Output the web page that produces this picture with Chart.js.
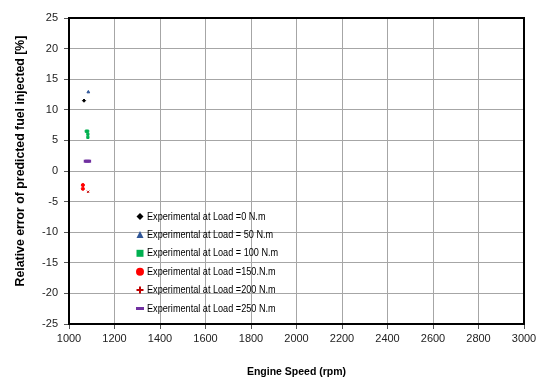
<!DOCTYPE html>
<html><head><meta charset="utf-8">
<script src="https://cdn.jsdelivr.net/npm/chart.js@4/dist/chart.umd.min.js"></script>
<style>html,body{margin:0;padding:0;background:#fff}</style>
</head><body>
<canvas id="c" width="540" height="378"></canvas>
<script>
// ---- data ----
const xTicks = [1000,1200,1400,1600,1800,2000,2200,2400,2600,2800,3000];
const yTicks = [-25,-20,-15,-10,-5,0,5,10,15,20,25];
const seriesNames = [
  'Experimental at Load =0 N.m',
  'Experimental at Load = 50 N.m',
  'Experimental at Load = 100 N.m',
  'Experimental at Load =150.N.m',
  'Experimental at Load =200 N.m',
  'Experimental at Load =250 N.m'
];
const xTitle = 'Engine Speed (rpm)';
const yTitle = 'Relative error of predicted fuel injected [%]';
const speedLoad0 = [1066];        const errLoad0 = [11.5];
const speedLoad50 = [1085];       const errLoad50 = [12.9];
const speedLoad100 = [1076, 1082, 1083, 1083]; const errLoad100 = [6.5, 6.5, 6.0, 5.5];
const speedLoad150 = [1061, 1061]; const errLoad150 = [-2.3, -2.9];
const speedLoad200 = [1084];      const errLoad200 = [-3.4];
const speedLoad250 = [1078, 1084]; const errLoad250 = [1.6, 1.6];

const colors = ['#000000','#2f5597','#00b050','#ff0000','#c00000','#7030a0'];
const styles = ['rectRot','triangle','rect','circle','crossRot','line'];
const speeds = [speedLoad0,speedLoad50,speedLoad100,speedLoad150,speedLoad200,speedLoad250];
const errs = [errLoad0,errLoad50,errLoad100,errLoad150,errLoad200,errLoad250];

const datasets = seriesNames.map((n,i)=>({
  label: n,
  data: speeds[i].map((x,j)=>({x:x,y:errs[i][j]})),
  showLine:false,
  pointStyle: styles[i],
  pointRadius: i===5 ? 3 : 1.6,
  pointBorderWidth: i===5 ? 3 : 1,
  backgroundColor: colors[i],
  borderColor: colors[i]
}));

const FONT = "'Liberation Sans', Arial, sans-serif";

const framePlugin = {
  id:'frame',
  beforeDatasetsDraw(chart){
    const {ctx, chartArea:a} = chart;
    ctx.save();
    ctx.strokeStyle='#000';
    ctx.lineWidth=2;
    ctx.strokeRect(a.left, a.top, a.right-a.left, a.bottom-a.top);
    ctx.restore();
  }
};

function drawMarker(ctx, style, x, y, color){
  ctx.save();
  ctx.fillStyle=color; ctx.strokeStyle=color;
  ctx.beginPath();
  switch(style){
    case 'rectRot': ctx.moveTo(x,y-3.5);ctx.lineTo(x+3.5,y);ctx.lineTo(x,y+3.5);ctx.lineTo(x-3.5,y);ctx.closePath();ctx.fill();break;
    case 'triangle': ctx.moveTo(x,y-4);ctx.lineTo(x+3.5,y+3);ctx.lineTo(x-3.5,y+3);ctx.closePath();ctx.fill();break;
    case 'rect': ctx.fillRect(x-3.5,y-3.5,7,7);break;
    case 'circle': ctx.arc(x,y,4,0,Math.PI*2);ctx.fill();break;
    case 'crossRot': ctx.lineWidth=2;ctx.moveTo(x-3.5,y);ctx.lineTo(x+3.5,y);ctx.moveTo(x,y-3.5);ctx.lineTo(x,y+3.5);ctx.stroke();break;
    case 'line': ctx.fillRect(x-4,y-1.5,8,3);break;
  }
  ctx.restore();
}

const textPlugin = {
  id:'texts',
  afterDraw(chart){
    const ctx = chart.ctx;
    // legend inside plot
    ctx.save();
    ctx.font = "11px " + FONT;
    ctx.fillStyle = '#000';
    ctx.textBaseline='middle';
    chart.data.datasets.forEach((ds,i)=>{
      const y = 216.5 + i*18.4;
      drawMarker(ctx, styles[i], 140, y, colors[i]);
      ctx.save();
      ctx.translate(147, y);
      ctx.scale(0.83, 1);
      ctx.fillText(ds.label, 0, 0);
      ctx.restore();
    });
    ctx.restore();
    // y axis title
    ctx.save();
    ctx.font = "bold 12.3px " + FONT;
    ctx.fillStyle = '#000';
    ctx.textAlign='center';
    ctx.textBaseline='middle';
    ctx.translate(21, 161);
    ctx.rotate(-Math.PI/2);
    ctx.fillText(yTitle, 0, 0);
    ctx.restore();
  }
};

new Chart(document.getElementById('c'), {
  type:'scatter',
  data:{datasets},
  options:{
    responsive:false,
    animation:false,
    layout:{padding:{top:18,right:16,left:0,bottom:0}},
    plugins:{legend:{display:false},tooltip:{enabled:false}},
    scales:{
      x:{
        type:'linear', min:1000, max:3000,
        afterBuildTicks(s){ s.ticks = xTicks.map(v=>({value:v})); },
        afterFit(s){ s.height = 54; },
        grid:{color:'#a6a6a6', lineWidth:1, tickLength:5, tickColor:'#555'},
        border:{display:false},
        ticks:{font:{family:FONT,size:11}, color:'#222', maxRotation:0, padding:3, callback:v=>String(v)},
        title:{display:true, text:xTitle, font:{family:FONT,size:10.5,weight:'bold'}, color:'#000', padding:{top:10,bottom:0}}
      },
      y:{
        type:'linear', min:-25, max:25,
        afterBuildTicks(s){ s.ticks = yTicks.map(v=>({value:v})); },
        afterFit(s){ s.width = 69; },
        grid:{color:'#a6a6a6', lineWidth:1, tickLength:5, tickColor:'#555'},
        border:{display:false},
        ticks:{font:{family:FONT,size:11}, color:'#222', padding:6, callback:v=>String(v)},
        title:{display:false}
      }
    }
  },
  plugins:[framePlugin, textPlugin]
});
</script>
</body></html>
